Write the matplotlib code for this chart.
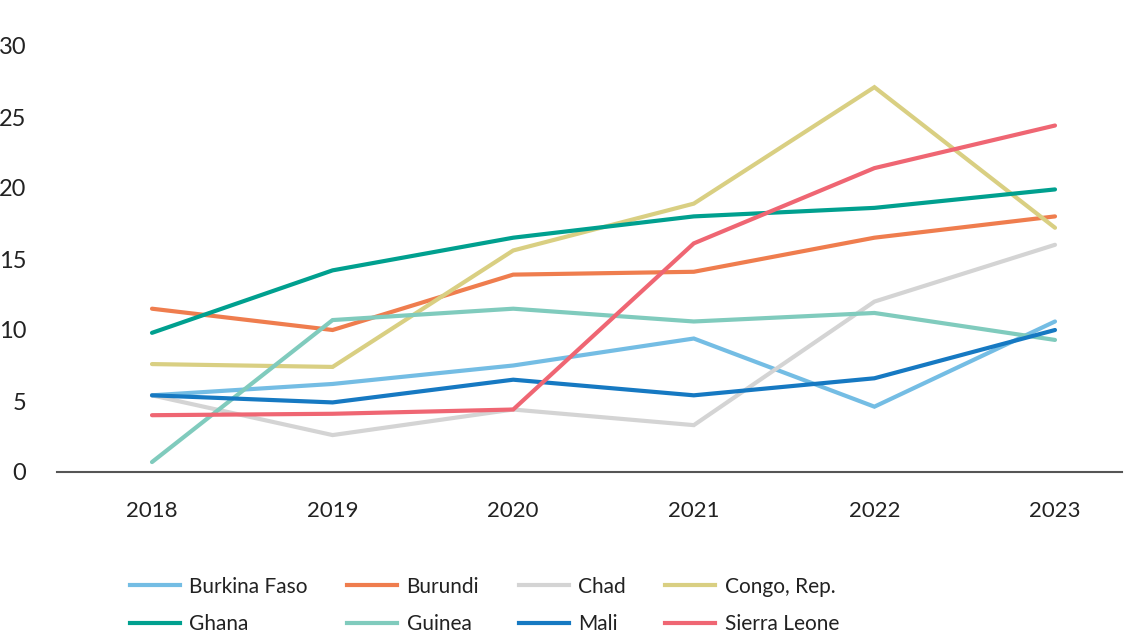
import matplotlib
matplotlib.use("Agg")
import matplotlib.pyplot as plt
from matplotlib.lines import Line2D

plt.rcParams['font.family'] = ['Lato', 'DejaVu Sans']

years = [2018, 2019, 2020, 2021, 2022, 2023]
burkina_faso = [5.4, 6.2, 7.5, 9.4, 4.6, 10.6]
burundi = [11.5, 10.0, 13.9, 14.1, 16.5, 18.0]
chad = [5.4, 2.6, 4.4, 3.3, 12.0, 16.0]
congo_rep = [7.6, 7.4, 15.6, 18.9, 27.1, 17.2]
ghana = [9.8, 14.2, 16.5, 18.0, 18.6, 19.9]
guinea = [0.7, 10.7, 11.5, 10.6, 11.2, 9.3]
mali = [5.4, 4.9, 6.5, 5.4, 6.6, 10.0]
sierra_leone = [4.0, 4.1, 4.4, 16.1, 21.4, 24.4]

series = [
    ("Burkina Faso", burkina_faso, "#74bde4"),
    ("Burundi", burundi, "#ef7d4e"),
    ("Chad", chad, "#d4d4d4"),
    ("Congo, Rep.", congo_rep, "#d9cf82"),
    ("Ghana", ghana, "#00a08f"),
    ("Guinea", guinea, "#80cbbd"),
    ("Mali", mali, "#1679c2"),
    ("Sierra Leone", sierra_leone, "#ef6673"),
]
yticks = [0, 5, 10, 15, 20, 25, 30]

fig = plt.figure(figsize=(11.38, 6.40), dpi=100)
ax = fig.add_axes([57/1138, 1 - 472/640, (1122 - 57)/1138, (472 - 46)/640])

handles = {}
for name, vals, col in series:
    ln, = ax.plot(years, vals, color=col, lw=3.0, solid_capstyle='round',
                  solid_joinstyle='miter', label=name)
    handles[name] = ln

ax.set_xlim(2018 - 0.526, 2023 + 0.371)
ax.set_ylim(0, 30)
ax.set_yticks(yticks)
ax.set_yticklabels([str(t) for t in yticks])
ax.set_xticks(years)
ax.set_xticklabels([str(y) for y in years])
ax.tick_params(axis='y', length=0, pad=22, labelsize=17, colors='#222222')
ax.tick_params(axis='x', length=0, pad=21, labelsize=16, colors='#222222')
for s in ['top', 'right', 'left']:
    ax.spines[s].set_visible(False)
ax.spines['bottom'].set_color('#555555')
ax.spines['bottom'].set_linewidth(1.5)

order = ["Burkina Faso", "Ghana", "Burundi", "Guinea", "Chad", "Mali",
         "Congo, Rep.", "Sierra Leone"]
hs = [Line2D([], [], color=handles[n].get_color(), lw=3.0) for n in order]
leg = fig.legend(hs, order, ncol=4, loc='upper left',
                 bbox_to_anchor=(111/1138, 1 - 558/640), frameon=False,
                 fontsize=15, handlelength=2.4, handletextpad=0.45,
                 columnspacing=1.9, labelspacing=0.85)
for t in leg.get_texts():
    t.set_color('#222222')

fig.savefig("out.png", dpi=100, facecolor='white')
